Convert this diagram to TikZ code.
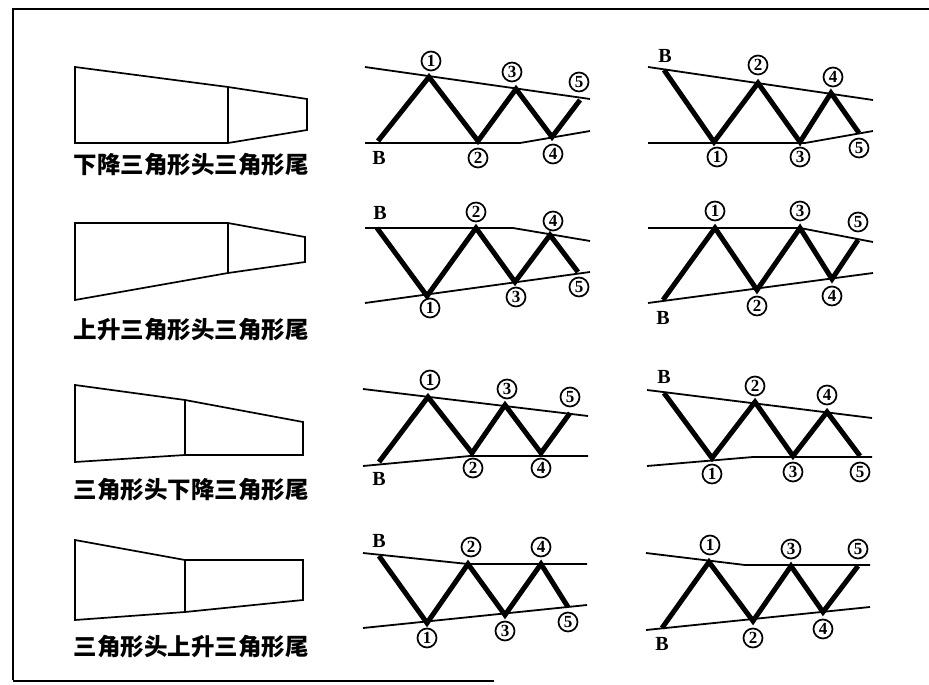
\documentclass[tikz,border=0pt]{standalone}
\usepackage{fontspec}
\newfontfamily\cjk{Noto Sans CJK SC}
\newfontfamily\digitfont{Liberation Serif}
\usetikzlibrary{positioning}

\begin{document}
\begin{tikzpicture}[x=1pt, y=-1pt,
    trend/.style={line width=1.8pt},
    zig/.style={line width=5pt, line join=miter},
    funnel/.style={line width=1.7pt, line join=miter},
    num/.style={draw, circle, line width=1.7pt, inner sep=0pt, minimum size=19pt,
      font=\digitfont\bfseries\fontsize{17}{17}\selectfont},
    blab/.style={inner sep=0pt, font=\digitfont\bfseries\fontsize{20}{20}\selectfont},
    title/.style={inner sep=0pt, font=\cjk\bfseries\fontsize{23.5}{23.5}\selectfont}
  ]
\useasboundingbox (0,0) rectangle (929,685);

% Frame
\draw[line width=2.4pt] (13,680) -- (13,9) -- (929,9);
\draw[line width=2.4pt] (13,681) -- (494,681);

% Row 1: descending head, triangle tail
\draw[funnel] (75,67) -- (228,87) -- (307,99) -- (307,130) -- (228,143) -- (75,143) -- cycle;
\draw[funnel] (228,87) -- (228,143);
\node[title] (t1) at (191,165) {下降三角形头三角形尾};

\draw[trend] (365,67) -- (590,99);
\draw[trend] (365,143) -- (520,143) -- (590,131);
\coordinate (r1m-B) at (378,141);
\coordinate (r1m-1) at (429,77);
\coordinate (r1m-2) at (478,141);
\coordinate (r1m-3) at (516,89);
\coordinate (r1m-4) at (552,137);
\coordinate (r1m-5) at (580,100);
\draw[zig] (r1m-B) -- (r1m-1) -- (r1m-2) -- (r1m-3) -- (r1m-4) -- (r1m-5);
\node[blab] (r1m-lB) at (379,158) {B};
\node[num] (r1m-l1) at (431,61) {1};
\node[num] (r1m-l2) at (478,158) {2};
\node[num] (r1m-l3) at (512,72) {3};
\node[num] (r1m-l4) at (553,154) {4};
\node[num] (r1m-l5) at (579,82) {5};

\draw[trend] (648,67) -- (873,100);
\draw[trend] (648,143) -- (805,143) -- (873,131);
\coordinate (r1r-B) at (664,70);
\coordinate (r1r-1) at (714,142);
\coordinate (r1r-2) at (758,83);
\coordinate (r1r-3) at (800,142);
\coordinate (r1r-4) at (831,93);
\coordinate (r1r-5) at (859,133);
\draw[zig] (r1r-B) -- (r1r-1) -- (r1r-2) -- (r1r-3) -- (r1r-4) -- (r1r-5);
\node[blab] (r1r-lB) at (665,56) {B};
\node[num] (r1r-l1) at (717,157) {1};
\node[num] (r1r-l2) at (758,65) {2};
\node[num] (r1r-l3) at (800,157) {3};
\node[num] (r1r-l4) at (833,77) {4};
\node[num] (r1r-l5) at (859,148) {5};

% Row 2: ascending head, triangle tail
\draw[funnel] (75,223) -- (228,223) -- (305,237) -- (305,262) -- (228,273) -- (75,300) -- cycle;
\draw[funnel] (228,223) -- (228,273);
\node[title] (t2) at (191,330) {上升三角形头三角形尾};

\draw[trend] (365,228) -- (513,228) -- (590,241);
\draw[trend] (365,303) -- (590,272);
\coordinate (r2m-B) at (377,228);
\coordinate (r2m-1) at (427,296);
\coordinate (r2m-2) at (476,228);
\coordinate (r2m-3) at (515,282);
\coordinate (r2m-4) at (550,235);
\coordinate (r2m-5) at (578,272);
\draw[zig] (r2m-B) -- (r2m-1) -- (r2m-2) -- (r2m-3) -- (r2m-4) -- (r2m-5);
\node[blab] (r2m-lB) at (380,213) {B};
\node[num] (r2m-l1) at (430,308) {1};
\node[num] (r2m-l2) at (476,212) {2};
\node[num] (r2m-l3) at (516,297) {3};
\node[num] (r2m-l4) at (553,221) {4};
\node[num] (r2m-l5) at (579,287) {5};

\draw[trend] (648,228) -- (800,228) -- (873,242);
\draw[trend] (648,303) -- (873,273);
\coordinate (r2r-B) at (663,300);
\coordinate (r2r-1) at (715,228);
\coordinate (r2r-2) at (757,290);
\coordinate (r2r-3) at (800,228);
\coordinate (r2r-4) at (832,279);
\coordinate (r2r-5) at (858,240);
\draw[zig] (r2r-B) -- (r2r-1) -- (r2r-2) -- (r2r-3) -- (r2r-4) -- (r2r-5);
\node[blab] (r2r-lB) at (663,318) {B};
\node[num] (r2r-l1) at (715,211) {1};
\node[num] (r2r-l2) at (757,306) {2};
\node[num] (r2r-l3) at (800,211) {3};
\node[num] (r2r-l4) at (832,296) {4};
\node[num] (r2r-l5) at (858,222) {5};

% Row 3: triangle head, descending tail
\draw[funnel] (75,385) -- (185,400) -- (303,422) -- (303,455) -- (185,455) -- (75,462) -- cycle;
\draw[funnel] (185,400) -- (185,455);
\node[title] (t3) at (191,490) {三角形头下降三角形尾};

\draw[trend] (363,389) -- (588,416);
\draw[trend] (363,466) -- (470,456) -- (588,456);
\coordinate (r3m-B) at (379,462);
\coordinate (r3m-1) at (428,397);
\coordinate (r3m-2) at (472,453);
\coordinate (r3m-3) at (505,405);
\coordinate (r3m-4) at (541,453);
\coordinate (r3m-5) at (570,413);
\draw[zig] (r3m-B) -- (r3m-1) -- (r3m-2) -- (r3m-3) -- (r3m-4) -- (r3m-5);
\node[blab] (r3m-lB) at (379,479) {B};
\node[num] (r3m-l1) at (430,380) {1};
\node[num] (r3m-l2) at (473,468) {2};
\node[num] (r3m-l3) at (507,389) {3};
\node[num] (r3m-l4) at (541,468) {4};
\node[num] (r3m-l5) at (570,397) {5};

\draw[trend] (647,390) -- (872,418);
\draw[trend] (647,466) -- (753,457) -- (872,457);
\coordinate (r3r-B) at (664,393);
\coordinate (r3r-1) at (712,458);
\coordinate (r3r-2) at (755,402);
\coordinate (r3r-3) at (793,456);
\coordinate (r3r-4) at (827,412);
\coordinate (r3r-5) at (860,456);
\draw[zig] (r3r-B) -- (r3r-1) -- (r3r-2) -- (r3r-3) -- (r3r-4) -- (r3r-5);
\node[blab] (r3r-lB) at (664,377) {B};
\node[num] (r3r-l1) at (712,474) {1};
\node[num] (r3r-l2) at (755,386) {2};
\node[num] (r3r-l3) at (793,472) {3};
\node[num] (r3r-l4) at (827,395) {4};
\node[num] (r3r-l5) at (860,472) {5};

% Row 4: triangle head, ascending tail
\draw[funnel] (75,540) -- (185,560) -- (303,560) -- (303,600) -- (185,612) -- (75,620) -- cycle;
\draw[funnel] (185,560) -- (185,612);
\node[title] (t4) at (191,647) {三角形头上升三角形尾};

\draw[trend] (363,553) -- (468,564) -- (587,564);
\draw[trend] (363,628) -- (587,605);
\coordinate (r4m-B) at (379,556);
\coordinate (r4m-1) at (427,623);
\coordinate (r4m-2) at (468,564);
\coordinate (r4m-3) at (505,615);
\coordinate (r4m-4) at (541,564);
\coordinate (r4m-5) at (568,607);
\draw[zig] (r4m-B) -- (r4m-1) -- (r4m-2) -- (r4m-3) -- (r4m-4) -- (r4m-5);
\node[blab] (r4m-lB) at (379,541) {B};
\node[num] (r4m-l1) at (427,638) {1};
\node[num] (r4m-l2) at (471,547) {2};
\node[num] (r4m-l3) at (505,631) {3};
\node[num] (r4m-l4) at (541,547) {4};
\node[num] (r4m-l5) at (568,622) {5};

\draw[trend] (646,553) -- (745,565) -- (870,565);
\draw[trend] (646,630) -- (870,607);
\coordinate (r4r-B) at (662,628);
\coordinate (r4r-1) at (709,562);
\coordinate (r4r-2) at (753,621);
\coordinate (r4r-3) at (791,566);
\coordinate (r4r-4) at (823,612);
\coordinate (r4r-5) at (858,566);
\draw[zig] (r4r-B) -- (r4r-1) -- (r4r-2) -- (r4r-3) -- (r4r-4) -- (r4r-5);
\node[blab] (r4r-lB) at (662,644) {B};
\node[num] (r4r-l1) at (710,545) {1};
\node[num] (r4r-l2) at (753,638) {2};
\node[num] (r4r-l3) at (791,549) {3};
\node[num] (r4r-l4) at (823,629) {4};
\node[num] (r4r-l5) at (858,549) {5};

\end{tikzpicture}
\end{document}
